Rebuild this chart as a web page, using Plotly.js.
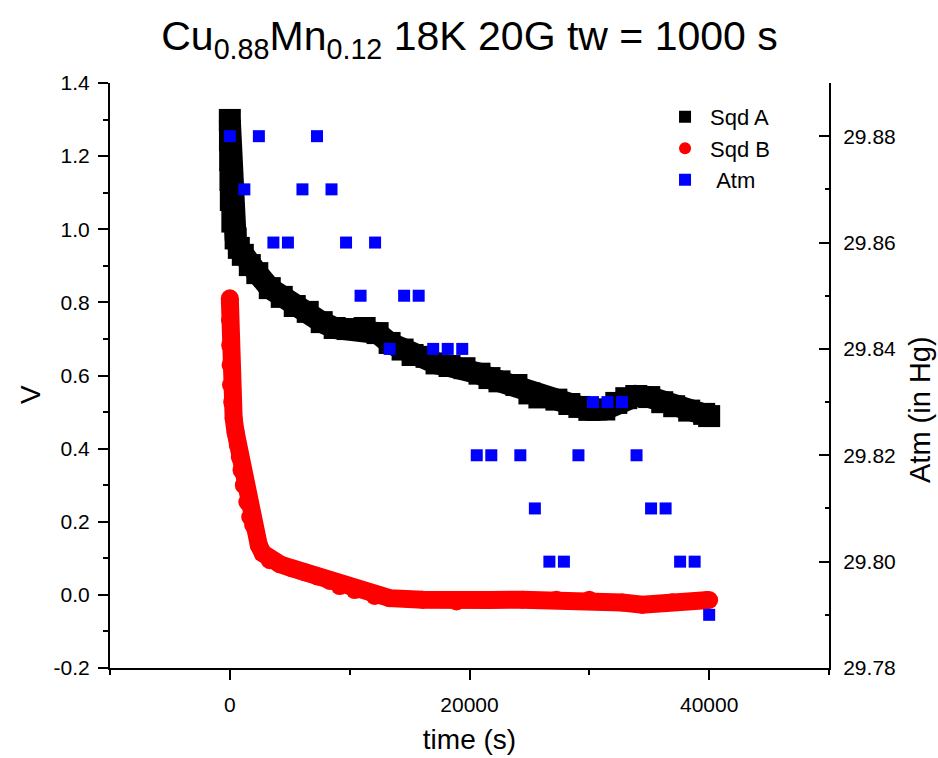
<!DOCTYPE html>
<html><head><meta charset="utf-8">
<script src="https://cdn.plot.ly/plotly-3.0.1.min.js"></script>
<style>html,body{margin:0;padding:0;background:#fff}#chart{width:938px;height:758px}</style>
</head><body><div id="chart"></div>
<script>
// ---- data ----
const timeA = [0,10,25,50,83,208,483,750,1083,1667,2292,3333,4333,5417,6500,7667,8750,9833,11250,12333,13333,14417,15250,16417,17250,18333,19583,20833,21667,22500,23917,25000,25833,27250,28333,29167,30000,31250,32250,33083,33917,35000,36083,37083,38333,39583,40000];
const sqdA  = [1.299,1.244,1.189,1.135,1.080,1.021,0.975,0.949,0.930,0.902,0.880,0.839,0.815,0.790,0.774,0.746,0.730,0.727,0.730,0.716,0.689,0.671,0.656,0.651,0.633,0.626,0.620,0.605,0.593,0.584,0.574,0.551,0.540,0.534,0.522,0.514,0.506,0.507,0.525,0.538,0.544,0.541,0.527,0.516,0.504,0.495,0.489];

const timeB = [0,15,35,60,100,200,317,480,667,830,975,1170,1458,1700,1944,2417,2750,3333,4167,5167,6250,7333,8333,9167,10417,12083,13333,16083,18917,21667,24417,27250,30000,32750,34417,36917,39750,40000];
const sqdB  = [0.811,0.752,0.683,0.629,0.574,0.527,0.484,0.445,0.410,0.377,0.341,0.300,0.254,0.213,0.191,0.136,0.114,0.095,0.084,0.073,0.062,0.050,0.038,0.024,0.013,-0.003,-0.009,-0.013,-0.018,-0.014,-0.013,-0.013,-0.013,-0.021,-0.027,-0.020,-0.015,-0.014];

const timeAtm = [0,1212,2424,3636,4848,6061,7273,8485,9697,10909,12121,13333,14545,15758,16970,18182,19394,20606,21818,24242,25455,26667,27879,29091,30303,31515,32727,33939,35152,36364,37576,38788,40000];
const atm     = [29.88,29.87,29.88,29.86,29.86,29.87,29.88,29.87,29.86,29.85,29.86,29.84,29.85,29.85,29.84,29.84,29.84,29.82,29.82,29.82,29.81,29.80,29.80,29.82,29.83,29.83,29.83,29.82,29.81,29.81,29.80,29.80,29.79];

const seriesNames = ['Sqd A', 'Sqd B', '\u00a0Atm'];
const xTickVals = [0, 20000, 40000];
const xTickText = ['0', '20000', '40000'];
const yTickVals = [-0.2, 0, 0.2, 0.4, 0.6, 0.8, 1.0, 1.2, 1.4];
const yTickText = ['-0.2', '0.0', '0.2', '0.4', '0.6', '0.8', '1.0', '1.2', '1.4'];
const y2TickVals = [29.78, 29.80, 29.82, 29.84, 29.86, 29.88];
const y2TickText = ['29.78', '29.80', '29.82', '29.84', '29.86', '29.88'];

// ---- drawing ----
const FONT = '"Liberation Sans", Arial, sans-serif';
const traces = [
  {x: timeA, y: sqdA, mode: 'lines', line: {color: '#000000', width: 22}, showlegend: false, hoverinfo: 'skip'},
  {x: timeA, y: sqdA, mode: 'markers', name: seriesNames[0], marker: {symbol: 'square', color: '#000000', size: 22}},
  {x: timeB, y: sqdB, mode: 'lines', line: {color: '#FF0000', width: 18}, showlegend: false, hoverinfo: 'skip'},
  {x: timeB, y: sqdB, mode: 'markers', name: seriesNames[1], marker: {symbol: 'circle', color: '#FF0000', size: 18}},
  {x: timeAtm, y: atm, yaxis: 'y2', mode: 'markers', name: seriesNames[2], marker: {symbol: 'square', color: '#0000FF', size: 12}}
];

const axisCommon = {
  showgrid: false, zeroline: false, showline: true, linecolor: '#000', linewidth: 2,
  ticks: 'outside', ticklen: 10, tickwidth: 2, tickcolor: '#000',
  tickfont: {family: FONT, size: 21, color: '#000'}
};

const layout = {
  width: 938, height: 758,
  paper_bgcolor: '#fff', plot_bgcolor: '#fff',
  margin: {l: 110, r: 109, t: 83, b: 90},
  font: {family: FONT, color: '#000'},
  title: {
    text: 'Cu<sub>0.88</sub>Mn<sub>0.12</sub> 18K 20G tw = 1000 s',
    font: {family: FONT, size: 41, color: '#000'},
    x: 0.5, xref: 'paper', y: 0.972, yref: 'container', yanchor: 'top'
  },
  xaxis: Object.assign({}, axisCommon, {
    range: [-10000, 50000], tickmode: 'array', tickvals: xTickVals, ticktext: xTickText,
    ticklabelstandoff: 7,
    minor: {tickmode: 'linear', tick0: 0, dtick: 10000, ticks: 'outside', ticklen: 5, tickwidth: 2, tickcolor: '#000'},
    title: {text: 'time (s)', font: {family: FONT, size: 28, color: '#000'}, standoff: 14}
  }),
  yaxis: Object.assign({}, axisCommon, {
    range: [-0.2, 1.4], tickmode: 'array', tickvals: yTickVals, ticktext: yTickText,
    ticklabelstandoff: 4,
    minor: {tickmode: 'linear', tick0: 0, dtick: 0.1, ticks: 'outside', ticklen: 5, tickwidth: 2, tickcolor: '#000'}
  }),
  yaxis2: Object.assign({}, axisCommon, {
    overlaying: 'y', side: 'right', anchor: 'x',
    range: [29.78, 29.89], tickmode: 'array', tickvals: y2TickVals, ticktext: y2TickText,
    ticks: 'inside', ticklabelstandoff: 8,
    minor: {tickmode: 'linear', tick0: 29.78, dtick: 0.01, ticks: 'inside', ticklen: 4, tickwidth: 2, tickcolor: '#000'}
  }),
  annotations: [
    {text: 'V', xref: 'paper', yref: 'paper', x: (30 - 110) / 719, y: (668 - 395) / 585,
     xanchor: 'center', yanchor: 'middle', textangle: -90, showarrow: false,
     font: {family: FONT, size: 28, color: '#000'}},
    {text: 'Atm (in Hg)', xref: 'paper', yref: 'paper', x: (920 - 110) / 719, y: (668 - 410) / 585,
     xanchor: 'center', yanchor: 'middle', textangle: -90, showarrow: false,
     font: {family: FONT, size: 29, color: '#000'}}
  ],
  legend: {
    x: 0.765, y: 0.978, xanchor: 'left', yanchor: 'top',
    bgcolor: 'rgba(0,0,0,0)', borderwidth: 0, itemsizing: 'constant', itemwidth: 40,
    font: {family: FONT, size: 22, color: '#000'}, tracegroupgap: 0
  },
  showlegend: true
};

Plotly.newPlot('chart', traces, layout, {displayModeBar: false, staticPlot: true});
</script>
</body></html>
